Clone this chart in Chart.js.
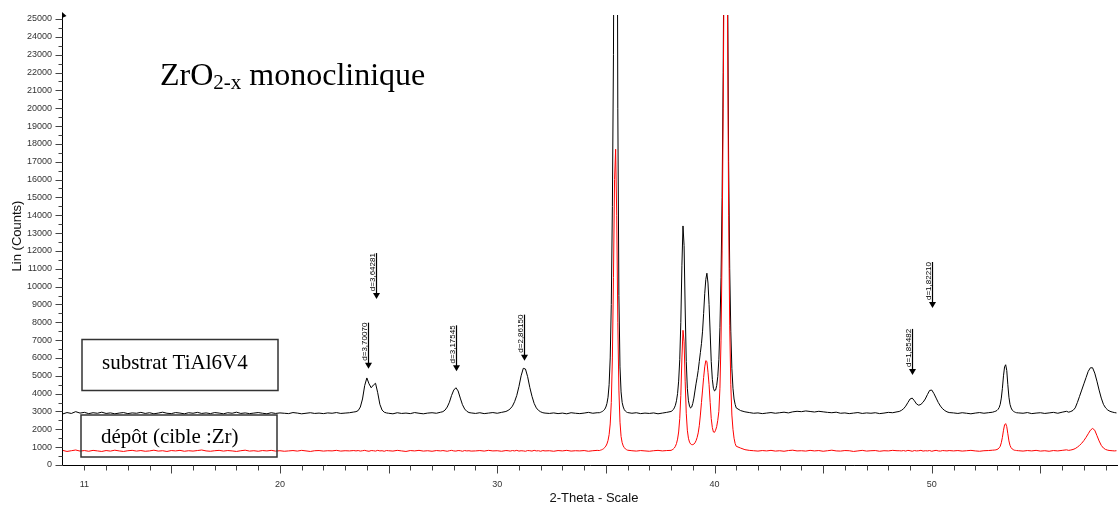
<!DOCTYPE html>
<html>
<head>
<meta charset="utf-8">
<title>ZrO2-x monoclinique</title>
<script src="https://cdn.jsdelivr.net/npm/chart.js@4.4.0/dist/chart.umd.min.js"></script>
<style>
  html, body { margin: 0; padding: 0; background: #fff; }
  #wrap { width: 1118px; height: 506px; }
</style>
</head>
<body>
<div id="wrap"><canvas id="xrdChart" width="1118" height="506"></canvas></div>
<script>
// 2-theta positions (deg) shared by both patterns
var twoTheta = [
  10.0,10.2,10.4,10.6,10.8,11.0,11.2,11.4,11.6,11.8,
  12.0,12.2,12.4,12.6,12.8,13.0,13.2,13.4,13.6,13.8,
  14.0,14.2,14.4,14.6,14.8,15.0,15.2,15.4,15.6,15.8,
  16.0,16.2,16.4,16.6,16.8,17.0,17.2,17.4,17.6,17.8,
  18.0,18.2,18.4,18.6,18.8,19.0,19.2,19.4,19.6,19.8,
  20.0,20.2,20.4,20.6,20.8,21.0,21.2,21.4,21.6,21.8,
  22.0,22.2,22.4,22.6,22.8,23.0,23.2,23.4,
  23.5,23.6,23.7,23.8,23.9,24.0,24.1,24.2,24.3,24.4,24.5,24.6,24.7,24.8,24.9,
  25.0,25.2,25.4,25.6,25.8,26.0,26.2,26.4,26.6,26.8,27.0,27.2,27.4,
  27.5,27.6,27.7,27.8,27.9,28.0,28.1,28.2,28.3,28.4,28.5,28.6,28.7,28.8,
  29.0,29.2,29.4,29.6,29.8,30.0,30.2,30.4,
  30.5,30.6,30.7,30.8,30.9,31.0,31.1,31.2,31.3,31.4,31.5,31.6,31.7,31.8,31.9,32.0,32.1,32.2,
  32.4,32.6,32.8,33.0,33.2,33.4,33.6,33.8,34.0,34.2,34.4,34.6,
  34.70,34.75,34.80,34.85,34.90,34.95,35.00,35.05,35.10,35.15,35.20,35.25,35.30,35.35,
  35.40,35.45,35.50,35.55,35.60,35.65,35.70,35.75,35.80,35.85,35.90,35.95,36.00,
  36.2,36.4,36.6,36.8,37.0,37.2,37.4,37.6,37.8,
  38.00,38.05,38.10,38.15,38.20,38.25,38.30,38.35,38.40,38.45,
  38.50,38.55,38.60,38.65,38.70,38.75,38.80,38.85,38.90,38.95,
  39.00,39.05,39.10,39.15,39.20,39.25,39.30,39.35,39.40,39.45,
  39.50,39.55,39.60,39.65,39.70,39.75,39.80,39.85,39.90,39.95,
  40.00,40.05,40.10,40.15,40.20,40.25,40.30,40.35,40.40,40.45,
  40.50,40.55,40.60,40.65,40.70,40.75,40.80,40.85,40.90,40.95,
  41.00,
  41.2,41.4,41.6,41.8,42.0,42.2,42.4,42.6,42.8,43.0,
  43.2,43.4,43.6,43.8,44.0,44.2,44.4,44.6,44.8,45.0,
  45.2,45.4,45.6,45.8,46.0,46.2,46.4,46.6,46.8,47.0,
  47.2,47.4,47.6,47.8,48.0,48.2,48.4,
  48.5,48.6,48.7,48.8,48.9,49.0,49.1,49.2,49.3,49.4,
  49.5,49.6,49.7,49.8,49.9,50.0,50.1,50.2,50.3,50.4,
  50.5,50.6,50.7,50.8,
  51.0,51.2,51.4,51.6,51.8,52.0,52.2,52.4,52.6,52.8,
  52.90,52.95,53.00,53.05,53.10,53.15,53.20,53.25,53.30,53.35,
  53.40,53.45,53.50,53.55,53.60,53.65,53.70,53.75,53.80,53.85,
  53.90,
  54.0,54.2,54.4,54.6,54.8,55.0,55.2,55.4,55.6,55.8,56.0,56.2,
  56.3,56.4,56.5,56.6,56.7,56.8,56.9,57.0,57.1,57.2,
  57.3,57.4,57.5,57.6,57.7,57.8,57.9,58.0,58.1,58.2,
  58.3,58.4,58.5
];

// substrat TiAl6V4 (black trace), counts
var substratCounts = [
  2860,2940,2890,2990,2910,2950,2880,2930,2900,2960,
  2890,2920,2870,2910,2940,2880,2920,2900,2950,2890,
  2930,2870,2910,2960,2900,2880,2940,2910,2870,2930,
  2900,2950,2890,2920,2880,2940,2910,2870,2930,2900,
  2960,2890,2920,2880,2910,2940,2900,2870,2930,2890,
  2920,2900,2880,2940,2910,2870,2900,2930,2890,2910,
  2880,2920,2900,2940,2890,2910,2930,2970,
  2990,3050,3250,3700,4450,4880,4550,4330,4480,4580,4050,3400,3080,2960,2920,
  2900,2870,2930,2890,2910,2880,2940,2900,2870,2910,2930,2900,2960,
  2990,3080,3250,3520,3900,4200,4330,4150,3750,3380,3140,3010,2940,2920,
  2890,2930,2880,2910,2940,2900,2950,3000,
  3060,3150,3300,3550,3900,4400,5000,5420,5380,4950,4350,3850,3450,3200,3060,2980,2930,2910,
  2890,2920,2880,2910,2870,2930,2900,2880,2910,2950,2900,2930,
  2930,2950,2980,3010,3060,3130,3250,3450,3800,4500,6000,9000,14500,23000,
  40000,60000,42000,20000,9500,5500,4100,3500,3250,3100,3020,2970,2940,
  2900,2930,2880,2910,2890,2920,2870,2910,2950,
  3000,3040,3100,3200,3350,3600,4000,4700,5900,8000,
  11200,13400,12300,8800,5800,4300,3600,3300,3190,3250,
  3450,3750,4150,4550,4900,5300,5800,6300,6800,7500,
  8500,9600,10400,10750,10200,9000,7400,5800,4800,4300,
  4150,4200,4450,4950,5900,7700,10500,15000,22000,33000,
  45000,42000,28000,17000,11000,7500,5400,4300,3700,3400,
  3200,
  3050,2980,2940,2900,2920,2880,2910,2940,2900,2930,
  2960,2920,2980,3010,2990,3030,3000,2970,3010,2980,
  2950,2930,2960,2900,2920,2880,2910,2940,2890,2920,
  2900,2930,2880,2910,2950,2930,2980,
  3000,3060,3150,3300,3500,3700,3750,3600,3420,3350,
  3400,3520,3700,3950,4180,4200,4000,3750,3500,3300,
  3150,3050,2980,2940,
  2920,2890,2930,2900,2870,2910,2940,2900,2930,2960,
  3000,3020,3060,3120,3220,3400,3750,4300,5000,5500,
  5620,5300,4500,3800,3400,3200,3080,3020,2980,2950,
  2930,
  2920,2900,2940,2880,2910,2930,2890,2920,2950,2900,2960,3010,
  2960,3000,3060,3200,3500,3850,4200,4550,4900,5250,
  5450,5450,5150,4700,4200,3750,3400,3200,3080,3010,
  2970,2940,2920
];

// dépôt (cible :Zr) (red trace), counts
var depotCounts = [
  820,760,800,840,780,810,770,820,790,760,
  810,780,830,790,760,800,820,780,810,770,
  790,830,780,800,760,810,790,820,770,800,
  780,810,840,790,770,800,820,780,810,790,
  760,800,830,780,800,770,810,790,820,780,
  800,770,790,810,780,820,790,760,800,810,
  780,800,790,820,780,800,790,810,
  790,810,780,800,820,790,770,810,800,780,820,790,800,770,810,
  800,780,820,790,760,810,790,820,780,800,770,810,790,
  810,790,770,800,820,790,780,810,800,770,810,790,800,780,
  790,810,780,820,790,800,770,810,
  800,780,810,790,820,780,800,790,770,810,800,780,820,790,800,770,810,790,
  800,770,810,790,820,780,800,790,810,770,800,820,
  810,830,850,880,920,980,1060,1180,1380,1700,2300,3500,6000,10500,
  16000,17700,14000,8000,4200,2400,1600,1250,1070,970,900,860,830,
  800,780,810,790,770,800,820,790,810,
  820,850,890,950,1050,1200,1450,1850,2600,3900,
  6000,7550,6900,4700,2900,1950,1500,1280,1180,1140,
  1140,1170,1240,1360,1540,1800,2200,2800,3500,4200,
  4900,5500,5850,5800,5200,4500,3500,2600,2100,1850,
  1830,1950,2150,2500,3000,4300,7000,12000,20000,30000,
  38000,36000,25000,14000,7800,4500,2800,2000,1500,1200,
  1050,
  950,860,820,800,780,810,790,820,780,800,
  770,810,830,790,800,780,820,790,810,770,
  800,830,790,780,810,800,760,790,820,780,
  800,810,770,800,790,820,800,
  800,790,810,780,820,800,770,810,790,800,
  820,780,800,790,810,770,800,820,790,780,
  810,800,790,810,
  790,810,780,800,820,790,770,800,810,830,
  840,850,870,900,960,1050,1250,1550,1950,2250,
  2320,2150,1750,1350,1100,970,900,860,830,820,
  810,
  800,780,810,790,820,780,800,770,810,790,820,850,
  820,840,870,920,1000,1100,1220,1370,1550,1750,
  1950,2050,1950,1650,1350,1100,950,870,830,810,
  800,790,800
];

// labelled ticks on the 2-theta axis
var xTickLabels = [11, 20, 30, 40, 50];

// d-spacing markers: label, 2-theta position, count level of the arrow tip
var dLabels = ['d=3,70070', 'd=3,64281', 'd=3,17545', 'd=2,86150', 'd=1,85482', 'd=1,82210'];
var dTheta = [24.03, 24.42, 28.08, 31.23, 49.08, 50.02];
var dTip = [5400, 9300, 5250, 5850, 5050, 8800];

if (substratCounts.length !== twoTheta.length || depotCounts.length !== twoTheta.length) {
  throw new Error('length mismatch ' + twoTheta.length + ' ' + substratCounts.length + ' ' + depotCounts.length);
}

function toPoints(arr) {
  return arr.map(function(v, i) { return { x: twoTheta[i], y: v }; });
}

var SANS = '"Liberation Sans", Arial, sans-serif';
var SERIF = '"Liberation Serif", "Times New Roman", serif';

var decorPlugin = {
  id: 'decor',
  afterDraw: function(chart) {
    var c = chart.ctx;
    var xs = chart.scales.x;
    var ys = chart.scales.y;
    var a = chart.chartArea;
    var x0 = Math.round(a.left) + 0.5;
    var y0 = Math.round(a.bottom) + 0.5;
    c.save();

    // axis lines
    c.strokeStyle = '#000';
    c.lineWidth = 1;
    c.beginPath();
    c.moveTo(x0, y0); c.lineTo(a.right, y0);
    c.moveTo(x0, y0); c.lineTo(x0, 14);
    c.stroke();
    c.fillStyle = '#000';
    c.beginPath();
    c.moveTo(x0 - 0.5, 12); c.lineTo(x0 + 4, 16); c.lineTo(x0 - 0.5, 18);
    c.closePath();
    c.fill();

    // y ticks, every 500
    c.strokeStyle = '#444';
    c.beginPath();
    for (var v = 0; v <= 25000; v += 500) {
      var y = Math.round(ys.getPixelForValue(v)) + 0.5;
      var len = v % 1000 === 0 ? 7 : 4;
      c.moveTo(x0 - len, y); c.lineTo(x0, y);
    }
    // x ticks, every degree
    for (var t = 11; t <= 58; t++) {
      var x = Math.round(xs.getPixelForValue(t)) + 0.5;
      var tl = t % 5 === 0 ? 8 : 5;
      c.moveTo(x, y0); c.lineTo(x, y0 + tl);
    }
    c.stroke();

    // axis titles
    c.fillStyle = '#111';
    c.font = '13px ' + SANS;
    c.textAlign = 'center';
    c.textBaseline = 'middle';
    c.fillText('2-Theta - Scale', 594, 498);
    c.save();
    c.translate(17, 236);
    c.rotate(-Math.PI / 2);
    c.fillText('Lin (Counts)', 0, 0);
    c.restore();

    // title ZrO2-x monoclinique
    c.fillStyle = '#000';
    c.textAlign = 'left';
    c.textBaseline = 'alphabetic';
    c.font = '32px ' + SERIF;
    var tx = 160;
    c.fillText('ZrO', tx, 85);
    tx += c.measureText('ZrO').width;
    c.font = '21px ' + SERIF;
    c.fillText('2-x', tx, 89);
    tx += c.measureText('2-x').width;
    c.font = '32px ' + SERIF;
    c.fillText(' monoclinique', tx, 85);

    // legend boxes
    c.strokeStyle = '#333';
    c.lineWidth = 1.5;
    c.strokeRect(82, 339.5, 196, 51);
    c.strokeRect(81, 415, 196, 42);
    c.font = '21px ' + SERIF;
    c.fillText('substrat TiAl6V4', 102, 369);
    c.fillText('d\u00e9p\u00f4t (cible :Zr)', 101, 443);

    // d-spacing arrows
    c.strokeStyle = '#000';
    c.fillStyle = '#000';
    c.lineWidth = 1.2;
    c.font = '8px ' + SANS;
    for (var i = 0; i < dLabels.length; i++) {
      var ax = Math.round(xs.getPixelForValue(dTheta[i])) + 0.5;
      var tipY = ys.getPixelForValue(dTip[i]);
      var topY = tipY - 46;
      c.beginPath();
      c.moveTo(ax, topY); c.lineTo(ax, tipY - 5);
      c.stroke();
      c.beginPath();
      c.moveTo(ax - 3.5, tipY - 6); c.lineTo(ax + 3.5, tipY - 6); c.lineTo(ax, tipY);
      c.closePath();
      c.fill();
      c.save();
      c.translate(ax - 1.5, topY);
      c.rotate(-Math.PI / 2);
      c.textAlign = 'right';
      c.textBaseline = 'alphabetic';
      c.fillText(dLabels[i], 0, 0);
      c.restore();
    }
    c.restore();
  }
};

var ctx = document.getElementById('xrdChart').getContext('2d');
var xrdChart = new Chart(ctx, {
  type: 'line',
  data: {
    datasets: [
      {
        label: 'dépôt (cible :Zr)',
        data: toPoints(depotCounts),
        borderColor: '#ff0000',
        borderWidth: 1,
        pointRadius: 0,
        tension: 0,
        clip: { left: 1, top: 4, right: 1, bottom: 1 }
      },
      {
        label: 'substrat TiAl6V4',
        data: toPoints(substratCounts),
        borderColor: '#000000',
        borderWidth: 1,
        pointRadius: 0,
        tension: 0,
        clip: { left: 1, top: 4, right: 1, bottom: 1 }
      }
    ]
  },
  options: {
    responsive: false,
    animation: false,
    devicePixelRatio: 1,
    layout: { padding: { top: 19, right: 0, left: 0, bottom: 0 } },
    plugins: {
      legend: { display: false },
      tooltip: { enabled: false }
    },
    scales: {
      x: {
        type: 'linear',
        min: 9.97,
        max: 58.57,
        afterBuildTicks: function(scale) {
          scale.ticks = xTickLabels.map(function(v) { return { value: v }; });
        },
        afterFit: function(scale) { scale.height = 41; },
        ticks: {
          autoSkip: false,
          maxRotation: 0,
          padding: 14,
          color: '#333',
          font: { family: SANS, size: 9 },
          callback: function(v) { return String(v); }
        },
        grid: { display: false, drawTicks: false },
        border: { display: false }
      },
      y: {
        min: 0,
        max: 25000,
        afterFit: function(scale) { scale.width = 62; },
        ticks: {
          stepSize: 1000,
          padding: 10,
          color: '#333',
          font: { family: SANS, size: 9 },
          callback: function(v) { return String(v); }
        },
        grid: { display: false, drawTicks: false },
        border: { display: false }
      }
    }
  },
  plugins: [decorPlugin]
});
</script>
</body>
</html>
